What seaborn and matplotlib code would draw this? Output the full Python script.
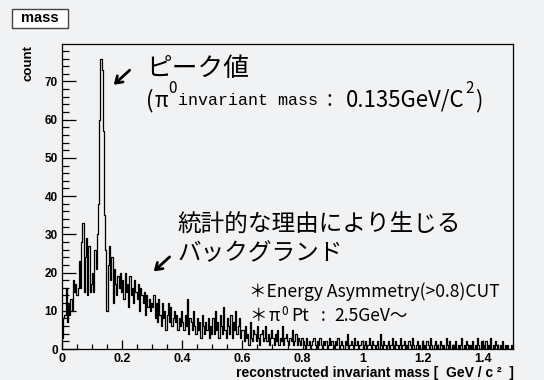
import numpy as np
import pandas as pd
import matplotlib
matplotlib.use("Agg")
import matplotlib.pyplot as plt
import seaborn as sns
from matplotlib.patches import Rectangle
from matplotlib.ticker import MultipleLocator, FuncFormatter

# Reconstructed diphoton mass spectrum, 0.004 GeV bins, one list per 0.1 GeV slice
BIN_WIDTH = 0.004
counts_000_010 = [3, 8, 9, 16, 7, 12, 9, 13, 10, 18, 15, 17, 14, 16, 23, 16, 28, 33, 15, 24, 29, 14, 27, 15, 17]
counts_010_020 = [20, 15, 26, 21, 30, 38, 60, 76, 73, 57, 35, 26, 10, 22, 27, 18, 24, 12, 21, 17, 14, 19, 16, 20, 15]
counts_020_030 = [18, 13, 20, 15, 17, 11, 19, 14, 16, 12, 18, 15, 13, 17, 10, 16, 14, 12, 15, 9, 14, 11, 13, 10, 12]
counts_030_040 = [11, 14, 8, 12, 7, 13, 9, 6, 12, 8, 10, 5, 9, 12, 7, 11, 6, 8, 10, 7, 9, 5, 8, 6, 10]
counts_040_050 = [7, 5, 9, 6, 13, 4, 8, 7, 5, 10, 6, 4, 8, 5, 7, 3, 9, 6, 4, 7, 5, 8, 3, 6, 4]
counts_050_060 = [8, 4, 10, 5, 7, 3, 9, 6, 4, 11, 5, 3, 8, 6, 4, 9, 3, 7, 5, 10, 4, 6, 8, 3, 5]
counts_060_070 = [5, 2, 6, 3, 4, 1, 7, 3, 2, 5, 4, 2, 6, 3, 1, 4, 5, 2, 3, 6, 2, 4, 1, 3, 5]
counts_070_080 = [3, 1, 4, 2, 5, 1, 3, 2, 6, 1, 3, 4, 2, 1, 3, 2, 5, 1, 2, 4, 1, 3, 2, 1, 3]
counts_080_090 = [2, 1, 0, 3, 1, 2, 0, 1, 2, 3, 1, 0, 2, 1, 3, 1, 0, 2, 1, 2, 0, 1, 3, 1, 2]
counts_090_100 = [1, 0, 2, 1, 3, 0, 1, 2, 1, 0, 2, 1, 4, 0, 1, 2, 1, 0, 3, 1, 2, 0, 1, 1, 2]
counts_100_110 = [0, 1, 2, 0, 1, 3, 1, 0, 2, 1, 0, 1, 2, 0, 4, 1, 0, 2, 1, 0, 1, 2, 0, 1, 3]
counts_110_120 = [1, 0, 2, 1, 0, 1, 3, 0, 1, 2, 0, 1, 0, 2, 1, 0, 3, 1, 0, 1, 2, 0, 1, 0, 2]
counts_120_130 = [0, 1, 0, 2, 1, 0, 3, 1, 0, 1, 2, 0, 1, 0, 2, 1, 0, 1, 0, 3, 1, 0, 2, 0, 1]
counts_130_140 = [1, 0, 2, 0, 1, 0, 1, 3, 0, 1, 0, 2, 1, 0, 1, 0, 2, 0, 1, 0, 3, 1, 0, 2, 0]
counts_140_150 = [1, 0, 2, 0, 1, 0, 3, 0, 1, 0, 2, 1, 0, 0, 1, 0, 2, 0, 1, 0, 1, 0, 0, 1, 0]

x_ticks = [0, 0.2, 0.4, 0.6, 0.8, 1.0, 1.2, 1.4]
y_ticks = [0, 10, 20, 30, 40, 50, 60, 70]

counts = np.concatenate([
    counts_000_010, counts_010_020, counts_020_030, counts_030_040, counts_040_050,
    counts_050_060, counts_060_070, counts_070_080, counts_080_090, counts_090_100,
    counts_100_110, counts_110_120, counts_120_130, counts_130_140, counts_140_150,
]).astype(float)
n_bins = len(counts)
edges = [i * BIN_WIDTH for i in range(n_bins + 1)]
df = pd.DataFrame({"mass": [(i + 0.5) * BIN_WIDTH for i in range(n_bins)], "count": counts})

BG = "#f1f2f4"
sns.set_style("ticks", {"axes.facecolor": BG, "figure.facecolor": BG})
plt.rcParams["font.family"] = ["Liberation Sans", "Noto Sans CJK JP"]
plt.rcParams["text.color"] = "black"
CJK = ["Noto Sans CJK JP", "DejaVu Sans"]
MONO = ["Liberation Mono", "Noto Sans CJK JP"]

W, H = 544, 380
fig = plt.figure(figsize=(W / 100, H / 100), dpi=100)
fig.patch.set_facecolor(BG)


def fx(px):
    return px / W


def fy(py):
    return 1 - py / H


def text_run(x_px, items):
    """Set a line of mixed-size pieces left to right; each item is
    (text, family, size, baseline_px, gap_before_px)."""
    renderer = fig.canvas.get_renderer()
    for s, fam, size, base, gap in items:
        x_px += gap
        t = fig.text(fx(x_px), fy(base), s, family=fam, fontsize=size,
                     va="baseline", ha="left", color="black")
        x_px = t.get_window_extent(renderer).x1


ax = fig.add_axes([fx(62), fy(349), (513 - 62) / W, (349 - 44) / H])
ax.set_facecolor(BG)

sns.histplot(data=df, x="mass", weights="count", bins=edges, element="step",
             fill=False, color="black", linewidth=0.9, ax=ax)

ax.set_xlim(0, 1.5)
ax.set_ylim(0, 79.8)
ax.set_xlabel("")
ax.set_ylabel("")
for s in ax.spines.values():
    s.set_visible(True)
    s.set_color("black")
    s.set_linewidth(0.9)

ax.set_xticks(x_ticks)
ax.set_yticks(y_ticks)
ax.xaxis.set_minor_locator(MultipleLocator(0.05))
ax.yaxis.set_minor_locator(MultipleLocator(2))
fmt = FuncFormatter(lambda v, p: f"{v:g}")
ax.xaxis.set_major_formatter(fmt)
ax.yaxis.set_major_formatter(fmt)
ax.tick_params(axis="x", which="major", direction="in", length=6.5, width=0.9, pad=3,
               labelsize=9, color="black", labelcolor="black")
ax.tick_params(axis="x", which="minor", direction="in", length=3.6, width=0.9, color="black")
ax.tick_params(axis="y", which="major", direction="in", length=10, width=0.9, pad=3,
               labelsize=8.5, color="black", labelcolor="black")
ax.tick_params(axis="y", which="minor", direction="in", length=5, width=0.9, color="black")
ax.tick_params(top=False, right=False, which="both")
for lab in ax.get_xticklabels() + ax.get_yticklabels():
    lab.set_fontweight("bold")

# title box and axis titles
fig.add_artist(Rectangle((fx(12), fy(28)), 56 / W, 19 / H, transform=fig.transFigure,
                         facecolor="white", edgecolor="#444444", linewidth=1))
fig.text(fx(40), fy(18.5), "mass", ha="center", va="center", fontsize=10.5, fontweight="bold")
fig.text(fx(28), fy(45), "count", rotation=90, ha="center", va="top", fontsize=9.5, fontweight="bold")
fig.text(fx(514), fy(377), "reconstructed invariant mass [  GeV / c ²  ]", ha="right",
         va="baseline", fontsize=10, fontweight="bold")

# peak annotation
arrow = dict(arrowstyle="->,head_length=0.45,head_width=0.3", lw=2, color="black")
ax.annotate("", xy=(fx(111.7), fy(86.7)), xytext=(fx(131.7), fy(68.3)),
            xycoords="figure fraction", textcoords="figure fraction", arrowprops=arrow)
fig.text(fx(146), fy(75.5), "ピーク値", family=CJK, fontsize=18.5, va="baseline")
text_run(146, [
    ("(", CJK, 16, 107, 0),
    ("π", CJK, 15, 107, 1),
    ("0", CJK, 11, 93, 0.5),
    ("invariant mass", MONO, 12, 105, 1),
    (":", CJK, 15, 106, 8),
    ("0.135GeV/C", CJK, 16, 106.5, 14),
    ("2", CJK, 11, 93, 0.5),
    (")", CJK, 16, 107, 2),
])

# background annotation
ax.annotate("", xy=(fx(151.7), fy(273.3)), xytext=(fx(171.7), fy(255)),
            xycoords="figure fraction", textcoords="figure fraction", arrowprops=arrow)
fig.text(fx(177), fy(230.5), "統計的な理由により生じる", family=CJK, fontsize=17, va="baseline")
fig.text(fx(177), fy(260.5), "バックグランド", family=CJK, fontsize=17, va="baseline")

# selection cuts
fig.text(fx(249), fy(297), "＊Energy Asymmetry(>0.8)CUT", family=CJK, fontsize=12.6,
         va="baseline", ha="left")
text_run(249, [
    ("＊", CJK, 12.6, 321, 0),
    ("π", CJK, 12.6, 321, 2),
    ("0", CJK, 8.5, 315, 1),
    ("Pt", CJK, 12.6, 321, 4),
    (":", CJK, 12.6, 321, 12),
    ("2.5GeV～", CJK, 12.6, 321, 8),
])

fig.savefig("out.png", dpi=100, facecolor=BG)
